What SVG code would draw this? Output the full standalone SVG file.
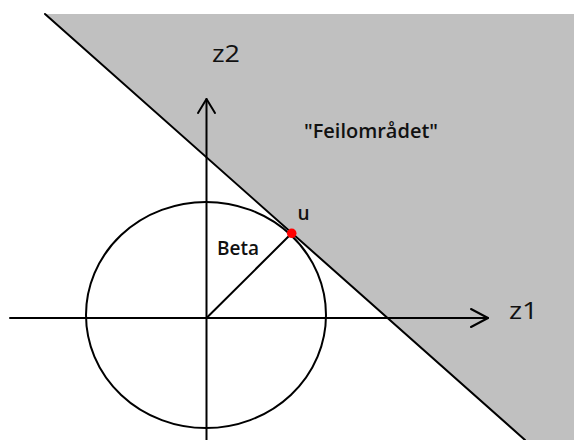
<svg xmlns="http://www.w3.org/2000/svg" width="574" height="440" viewBox="0 0 574 440">
<style>
.ln{stroke:#000;stroke-width:2;fill:none;stroke-linecap:round;stroke-linejoin:round}
.lbl{font-family:"Open Sans","Liberation Sans",Arial,sans-serif;fill:#111}
.b{font-weight:600}
</style>
<rect width="574" height="440" fill="#fff"/>
<g id="feilomraadet">
<polygon points="45,14 574,14 574,440 525,440" fill="#c0c0c0"/>
<line class="ln" x1="45" y1="14" x2="525" y2="440"/>
<text class="lbl b" x="304" y="138" font-size="19" textLength="134" lengthAdjust="spacingAndGlyphs">"Feilområdet"</text>
</g>
<g id="circle">
<ellipse class="ln" cx="206" cy="315" rx="120" ry="113"/>
</g>
<g id="connectors">
<line class="ln" x1="10" y1="318" x2="488" y2="318"/>
<polyline class="ln" points="471,309 488,318 471,327"/>
<line class="ln" x1="206.5" y1="440" x2="206.5" y2="99"/>
<polyline class="ln" points="198,113 206.5,99 215,113"/>
<line class="ln" x1="206.5" y1="318" x2="291.7" y2="233.3"/>
</g>
<g id="z1"><text class="lbl" x="509" y="319" font-size="23" textLength="29" lengthAdjust="spacingAndGlyphs">z1</text></g>
<g id="z2"><text class="lbl" x="212" y="62" font-size="23" textLength="28" lengthAdjust="spacingAndGlyphs">z2</text></g>
<g id="beta"><text class="lbl b" x="217" y="255" font-size="19" textLength="42" lengthAdjust="spacingAndGlyphs">Beta</text></g>
<g id="u">
<circle cx="291.7" cy="233.3" r="4.8" fill="#ff0000"/>
<text class="lbl b" x="297.5" y="220" font-size="19">u</text>
</g>
</svg>
